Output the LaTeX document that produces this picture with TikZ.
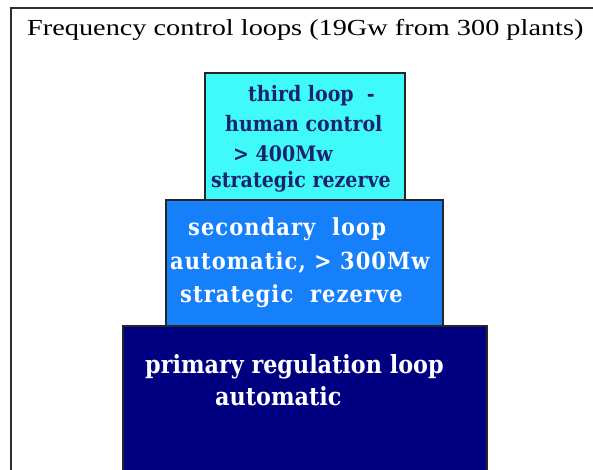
\documentclass[tikz,border=0pt]{standalone}
\usepackage{fontspec}
\setmainfont{Liberation Serif}
\newfontfamily\boxfont{DejaVu Serif}[BoldFont={DejaVu Serif Bold}]
\newfontfamily\secfont{DejaVu Serif}[BoldFont={DejaVu Serif Bold},LetterSpace=5]
\usepackage{graphicx}
\definecolor{thirdfill}{RGB}{64,250,250}
\definecolor{secfill}{RGB}{22,128,250}
\definecolor{primfill}{RGB}{0,0,128}
\definecolor{thirdtext}{RGB}{25,35,110}
\definecolor{framecol}{RGB}{45,45,45}
\newcommand{\tallx}[1]{\scalebox{1}[1.12]{#1}}
\tikzset{
  loopbox/.style={draw=black!85, line width=1.2pt, inner sep=0pt, outer sep=0pt},
  ttl/.style={anchor=base west, inner sep=0pt, font=\fontsize{23}{23}\selectfont, text=black},
  tline/.style={anchor=base west, inner sep=0pt, font=\boxfont\bfseries\fontsize{19}{19}\selectfont, text=thirdtext},
  sline/.style={anchor=base west, inner sep=0pt, font=\secfont\bfseries\fontsize{21}{21}\selectfont, text=white},
  pline/.style={anchor=base west, inner sep=0pt, font=\boxfont\bfseries\fontsize{22.3}{22.3}\selectfont, text=white},
}
\begin{document}
\begin{tikzpicture}[x=1pt,y=-1pt]
\useasboundingbox (0,0) rectangle (593,470);
\begin{scope}
\clip (0,0) rectangle (593,470);
\fill[white] (0,0) rectangle (593,470);
\draw[framecol, line width=2pt] (11,480) -- (11,8) -- (600,8);
% boxes
\path[loopbox, fill=primfill] (123,326) rectangle (487,480);
\path[loopbox, fill=secfill] (166,200) rectangle (443,326);
\path[loopbox, fill=thirdfill] (205,73) rectangle (405,200);
\end{scope}
\node[ttl] (title) at (27,36) {\scalebox{1.23}[1]{Frequency control loops (19Gw from 300 plants)}};
% third loop
\node[tline] (t1) at (248,102) {\tallx{third loop\ \ -}};
\node[tline] (t2) at (225,132) {\tallx{human control}};
\node[tline] (t3) at (233,162) {\tallx{> 400Mw}};
\node[tline] (t4) at (211,188) {\tallx{strategic rezerve}};
% secondary loop
\node[sline] (s1) at (188,235) {\tallx{secondary\ \ loop}};
\node[sline] (s2) at (170,269) {\tallx{automatic, > 300Mw}};
\node[sline] (s3) at (180,302) {\tallx{strategic\ \ rezerve}};
% primary loop
\node[pline] (p1) at (145,373) {\tallx{primary regulation loop}};
\node[pline] (p2) at (215,405) {\tallx{automatic}};
\end{tikzpicture}
\end{document}
